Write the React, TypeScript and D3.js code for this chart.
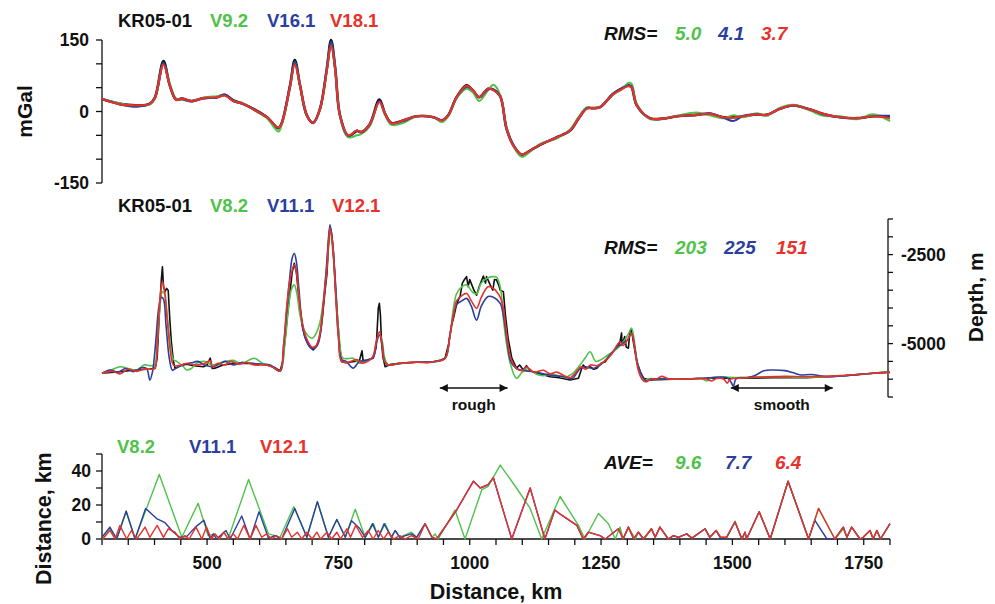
import React from "react";
import * as d3 from "d3";

// ---------- DATA ----------
const seriesNamesTop = ["KR05-01", "V9.2", "V16.1", "V18.1"];
const seriesNamesMid = ["KR05-01", "V8.2", "V11.1", "V12.1"];
const seriesNamesBot = ["V8.2", "V11.1", "V12.1"];
const rmsTop = ["5.0", "4.1", "3.7"];
const rmsMid = ["203", "225", "151"];
const aveBot = ["9.6", "7.7", "6.4"];

const topKm = [
  300, 334, 366, 391, 401, 417, 429, 441, 452, 471,
  493, 518, 534, 550, 569, 594, 614, 636, 642, 658,
  667, 677, 690, 702, 715, 728, 736, 744, 753, 769,
  785, 794, 810, 828, 839, 851, 873, 899, 931, 947,
  959, 975, 994, 1006, 1018, 1035, 1045, 1058, 1070, 1083,
  1099, 1115, 1134, 1166, 1191, 1207, 1223, 1235, 1248, 1273,
  1289, 1302, 1308, 1318, 1343, 1368, 1394, 1432, 1457, 1483,
  1502, 1521, 1546, 1565, 1591, 1616, 1648, 1673, 1705, 1737,
  1768, 1800,
];
const gravKR = [
  26, 16, 13, 16, 30, 106, 55, 25, 27, 22,
  28, 30, 35, 23, 16, 2, -12, -35, -25, 55,
  108, 55, -8, -24, 6, 90, 150, 90, -8, -52,
  -41, -43, -26, 25, -5, -24, -19, -10, -12, -19,
  -8, 30, 55, 44, 30, 48, 46, 32, -36, -71,
  -91, -82, -70, -54, -40, -15, 7, 7, 9, 37,
  48, 55, 51, 13, -14, -15, -10, -7, -5, -12,
  -12, -10, -6, -7, 6, 13, 4, -5, -12, -14,
  -10, -10,
];
const gravV9 = [
  26, 17, 12, 15, 28, 100, 58, 27, 25, 21,
  29, 32, 34, 22, 16, 0, -14, -42, -28, 50,
  104, 55, -10, -22, 4, 88, 145, 88, -10, -54,
  -50, -47, -30, 20, -8, -28, -24, -10, -12, -22,
  -10, 28, 48, 40, 22, 45, 56, 35, -32, -72,
  -95, -84, -68, -56, -38, -12, 9, 6, 10, 36,
  46, 60, 58, 16, -16, -15, -9, -2, -8, -14,
  -8, -12, -4, -9, 8, 14, 2, -9, -10, -16,
  -6, -20,
];
const gravV16 = [
  26, 15, 10, 17, 29, 102, 55, 25, 26, 21,
  28, 29, 35, 22, 15, 1, -12, -34, -24, 54,
  105, 54, -9, -23, 5, 90, 146, 89, -8, -51,
  -40, -44, -27, 22, -5, -24, -20, -10, -12, -18,
  -8, 30, 52, 45, 30, 46, 46, 32, -35, -70,
  -90, -82, -70, -54, -40, -15, 7, 7, 9, 37,
  48, 54, 53, 13, -14, -15, -10, -7, -4, -13,
  -20, -9, -6, -7, 6, 12, 4, -6, -12, -14,
  -10, -9,
];
const gravV18 = [
  26, 15, 13, 16, 29, 98, 55, 24, 27, 22,
  28, 30, 33, 22, 16, 1, -12, -34, -25, 52,
  98, 54, -8, -24, 5, 86, 138, 86, -8, -50,
  -40, -43, -26, 20, -5, -25, -19, -10, -12, -19,
  -8, 30, 54, 45, 30, 48, 45, 32, -36, -72,
  -90, -82, -70, -54, -40, -15, 6, 7, 9, 36,
  47, 53, 51, 13, -14, -15, -10, -7, -5, -12,
  -13, -10, -6, -7, 6, 13, 4, -5, -12, -14,
  -10, -14,
];

const depthKR: [number, number][] = [
  [300,-5830],[334,-5790],[360,-5745],[391,-5715],[401,-5695],[405,-5400],[409,-4200],[413,-3200],[415,-2840],[417,-3400],
  [420,-3540],[423,-3450],[426,-3500],[429,-4300],[432,-4950],[436,-5500],[439,-5690],[450,-5620],[461,-5580],[475,-5620],
  [493,-5650],[500,-5600],[506,-5410],[510,-5700],[515,-5690],[530,-5600],[550,-5555],[582,-5555],[614,-5600],[630,-5680],
  [639,-5770],[644,-5500],[648,-4950],[653,-4200],[658,-3540],[662,-3000],[666,-2745],[670,-3000],[674,-3600],[677,-4000],
  [681,-4500],[686,-4800],[694,-5050],[702,-5180],[709,-5050],[715,-4760],[720,-4200],[724,-3600],[728,-3070],[731,-2300],
  [734,-1720],[737,-1900],[740,-2320],[744,-3200],[748,-4200],[752,-5000],[756,-5510],[765,-5540],[778,-5510],[790,-5480],
  [795,-5200],[797,-5480],[804,-5460],[816,-5410],[822,-5100],[826,-4000],[828,-3870],[830,-4200],[832,-4950],[835,-5400],
  [839,-5650],[850,-5580],[867,-5555],[899,-5525],[931,-5510],[945,-5460],[953,-5410],[960,-5000],[965,-4500],[969,-4290],
  [975,-3900],[982,-3640],[986,-3300],[990,-3200],[994,-3120],[997,-3400],[1000,-3200],[1004,-3350],[1008,-3500],[1013,-3640],
  [1018,-3400],[1022,-3250],[1026,-3100],[1030,-3300],[1032,-3120],[1036,-3250],[1039,-3350],[1044,-3500],[1047,-3200],[1051,-3210],
  [1055,-3350],[1058,-3500],[1064,-3540],[1068,-4200],[1073,-4850],[1080,-5400],[1089,-5690],[1095,-5600],[1102,-5740],[1108,-5620],
  [1115,-5760],[1121,-5790],[1135,-5850],[1153,-5930],[1170,-5960],[1191,-6020],[1207,-5975],[1212,-5750],[1216,-5600],[1222,-5700],
  [1229,-5650],[1236,-5720],[1242,-5690],[1250,-5550],[1258,-5510],[1266,-5350],[1273,-5230],[1280,-5100],[1286,-4950],[1289,-4700],
  [1290,-5050],[1295,-4800],[1298,-5100],[1302,-5130],[1305,-4650],[1308,-4620],[1312,-5000],[1318,-5510],[1325,-5800],[1331,-5975],
  [1343,-6020],[1388,-6000],[1451,-5975],[1515,-5975],[1578,-5957],[1641,-5955],[1705,-5910],[1768,-5835],[1800,-5805],
];
const depthV8: [number, number][] = [
  [300,-5830],[315,-5760],[334,-5650],[350,-5700],[366,-5750],[380,-5600],[391,-5620],[400,-5600],[405,-5000],[410,-4000],
  [415,-3540],[419,-3600],[424,-4200],[430,-5000],[436,-5450],[442,-5500],[455,-5650],[461,-5740],[470,-5700],[480,-5550],
  [495,-5500],[510,-5600],[522,-5550],[535,-5500],[550,-5470],[565,-5560],[590,-5410],[605,-5550],[620,-5620],[639,-5770],
  [648,-5000],[655,-4000],[660,-3500],[666,-3350],[671,-3600],[677,-4200],[686,-4650],[700,-4850],[708,-4700],[715,-4400],
  [722,-3700],[728,-2800],[734,-1800],[740,-2500],[746,-3800],[752,-4900],[758,-5400],[770,-5420],[778,-5410],[790,-5550],
  [800,-5500],[815,-5400],[822,-5000],[828,-4760],[833,-4900],[838,-5400],[845,-5600],[867,-5555],[899,-5525],[931,-5510],
  [953,-5420],[962,-4800],[969,-4000],[975,-3600],[985,-3400],[994,-3350],[1005,-3550],[1013,-3600],[1022,-3300],[1035,-3150],
  [1045,-3120],[1051,-3130],[1058,-3400],[1064,-4300],[1070,-5000],[1078,-5600],[1089,-5975],[1100,-5800],[1112,-5700],[1125,-5850],
  [1140,-5900],[1153,-5850],[1165,-5880],[1180,-5950],[1195,-5850],[1210,-5600],[1220,-5400],[1229,-5230],[1240,-5500],[1250,-5450],
  [1265,-5300],[1280,-5150],[1295,-4900],[1303,-4700],[1308,-4560],[1312,-4800],[1318,-5450],[1325,-5850],[1331,-6050],[1340,-5990],
  [1360,-5990],[1400,-5990],[1420,-6000],[1440,-5970],[1451,-6050],[1460,-5960],[1515,-5950],[1578,-5930],[1641,-5950],[1705,-5910],
  [1768,-5835],[1790,-5790],[1800,-5830],
];
const depthV11: [number, number][] = [
  [300,-5830],[315,-5740],[330,-5800],[345,-5700],[360,-5790],[375,-5680],[385,-5700],[391,-6025],[396,-5800],[402,-5000],
  [408,-4000],[413,-3700],[417,-3750],[422,-4500],[428,-5400],[434,-5750],[440,-5700],[455,-5580],[470,-5540],[482,-5500],
  [495,-5600],[510,-5650],[525,-5560],[535,-5500],[550,-5600],[565,-5530],[580,-5550],[605,-5580],[620,-5600],[639,-5770],
  [646,-5000],[652,-4000],[657,-3200],[662,-2600],[666,-2460],[670,-2700],[675,-3500],[680,-4300],[688,-4900],[700,-5150],
  [710,-5050],[716,-4700],[722,-3800],[728,-2700],[734,-1660],[739,-2200],[745,-3600],[750,-4800],[756,-5450],[765,-5500],
  [778,-5690],[790,-5500],[800,-5480],[816,-5400],[822,-5000],[828,-4760],[833,-5000],[838,-5500],[845,-5600],[867,-5555],
  [899,-5525],[931,-5510],[953,-5420],[962,-4800],[969,-4200],[975,-3900],[985,-3800],[994,-3730],[1003,-3950],[1013,-4340],
  [1022,-3950],[1035,-3680],[1045,-3700],[1058,-3870],[1064,-4200],[1070,-4800],[1078,-5500],[1089,-5700],[1100,-5750],[1121,-5790],
  [1140,-5850],[1160,-5900],[1180,-5930],[1195,-5980],[1210,-5700],[1220,-5650],[1235,-5700],[1250,-5580],[1265,-5350],[1280,-5100],
  [1290,-5000],[1300,-4900],[1308,-4720],[1314,-5100],[1320,-5600],[1328,-5900],[1336,-6050],[1345,-6000],[1400,-6000],[1440,-5980],
  [1490,-5960],[1498,-6100],[1502,-6200],[1507,-5990],[1530,-5950],[1545,-5880],[1560,-5760],[1578,-5740],[1600,-5760],[1616,-5820],
  [1630,-5880],[1650,-5870],[1680,-5930],[1705,-5910],[1768,-5835],[1800,-5805],
];
const depthV12: [number, number][] = [
  [300,-5830],[320,-5780],[334,-5850],[350,-5720],[366,-5780],[380,-5720],[395,-5720],[401,-5690],[405,-5000],[410,-3800],
  [415,-3260],[419,-3500],[424,-4300],[430,-5200],[436,-5600],[445,-5620],[461,-5560],[480,-5600],[495,-5560],[506,-5480],
  [510,-5650],[520,-5560],[535,-5600],[545,-5500],[560,-5580],[575,-5530],[590,-5600],[614,-5600],[630,-5700],[639,-5770],
  [646,-5000],[652,-3900],[658,-3200],[666,-2790],[670,-3000],[675,-3700],[680,-4300],[688,-4800],[700,-5100],[708,-5050],
  [715,-4700],[722,-3800],[728,-2900],[734,-1750],[739,-2200],[745,-3700],[750,-4800],[756,-5500],[770,-5520],[785,-5450],
  [795,-5550],[806,-5500],[816,-5350],[822,-4950],[828,-4670],[833,-5000],[838,-5500],[845,-5600],[867,-5555],[899,-5520],
  [920,-5540],[931,-5510],[953,-5420],[962,-4800],[969,-4200],[975,-3800],[985,-3650],[994,-3590],[1003,-3800],[1013,-4010],
  [1022,-3700],[1035,-3400],[1045,-3450],[1058,-3700],[1064,-4000],[1070,-4700],[1078,-5400],[1089,-5700],[1100,-5760],[1108,-5650],
  [1121,-5800],[1140,-5750],[1153,-5850],[1165,-5800],[1180,-5900],[1191,-5960],[1200,-5850],[1212,-5650],[1220,-5720],[1230,-5600],
  [1242,-5620],[1258,-5480],[1270,-5300],[1280,-5050],[1286,-4950],[1292,-5050],[1300,-4900],[1308,-4710],[1314,-5100],[1320,-5700],
  [1328,-6000],[1336,-6080],[1345,-5990],[1355,-6000],[1365,-5920],[1380,-5990],[1420,-5990],[1450,-5990],[1460,-6050],[1470,-5980],
  [1484,-6000],[1490,-6110],[1496,-6000],[1520,-5970],[1560,-5940],[1600,-5920],[1641,-5930],[1705,-5900],[1768,-5835],[1800,-5800],
];

const distV8: [number, number][] = [
  [300,0],[303,0.4],[315,6],[328,0],[346,16],[363,0],[409,38],[452,1],[483,21],[502,2],
  [515,3],[523,0],[532,4],[540,0],[579,35],[617,3],[629,2],[639,1],[665,19],[690,1],
  [710,22],[731,1],[747,11.5],[763,1],[782,17.5],[801,1],[817,9],[826,1],[839,9],[851,1],
  [858,5],[867,1],[889,4],[899,1],[915,9],[928,1],[934,3],[940,0],[972,17],[991,0],
  [1023,29],[1035,31],[1058,43.5],[1089,30],[1115,18],[1137,0],[1172,25],[1207,8],[1219,0],[1245,15],
  [1264,9],[1277,0],[1286,7],[1292,0],[1302,7],[1315,0],[1321,4],[1331,0],[1346,6],[1353,1],
  [1362,7],[1378,0],[1388,2],[1397,1],[1413,3],[1423,0.5],[1448,6],[1457,1],[1469,5],[1478,1],
  [1489,1],[1505,10.5],[1518,0],[1524,4],[1527,0],[1551,16],[1572,0],[1606,34],[1645,0],[1664,18],
  [1695,0],[1711,6],[1718,1],[1727,7],[1743,0],[1749,1],[1762,5],[1768,0],[1775,5],[1782,0],
  [1800,9],
];
const distV11: [number, number][] = [
  [300,1],[315,7],[328,0],[346,16.5],[363,0],[383,18],[404,12],[420,9.6],[436,4],[448,1],
  [461,1.4],[480,7.6],[494,11],[506,0],[512,3],[518,0],[536,5],[544,0],[566,13.5],[582,0],
  [599,16],[617,0.4],[629,2],[642,0],[667,18],[690,1],[710,22],[731,1],[747,11.5],[763,1],
  [775,10.8],[791,6],[801,1],[815,9],[826,1],[837,9],[851,1],[858,5],[867,1],[889,3],
  [899,1],[915,9],[928,1],[937,0],[975,17],[1007,34],[1020,30],[1035,32],[1045,36],[1080,0],
  [1115,30],[1143,0],[1162,17],[1175,14],[1204,8],[1216,0],[1226,4],[1248,2],[1258,0],[1283,6],
  [1292,0],[1302,7],[1312,0],[1321,4],[1331,0],[1346,6],[1353,1],[1362,7],[1378,0],[1388,2],
  [1397,1],[1413,3],[1423,0.5],[1448,6],[1457,1],[1469,5],[1478,0],[1489,1],[1505,10],[1518,0],
  [1524,4],[1527,0],[1551,16],[1572,0],[1606,34],[1645,0],[1657,11],[1680,0],[1695,0],[1711,7],
  [1718,1],[1727,7],[1743,0],[1749,1],[1762,5],[1768,0],[1775,5],[1782,0],[1800,9],
];
const distV12: [number, number][] = [
  [300,0],[301,0],[315,5],[325,0],[334,8],[347,0],[356,5],[366,0],[382,7],[391,1],
  [405,8],[417,1],[426,6],[439,4],[448,0],[458,2],[466,0],[479,7],[490,0],[499,7],
  [508,0],[515,3],[523,0],[532,4],[540,0],[550,3],[558,0],[570,8],[582,0],[593,8],
  [604,1],[613,3],[623,0],[632,2],[642,0],[653,6],[661,1],[672,4],[680,0],[690,4],
  [700,0],[709,4],[716,0],[728,4],[737,0],[747,4],[754,0],[766,6],[773,1],[783,8],
  [796,1],[807,5],[816,0],[826,5],[836,0],[845,4],[855,0],[867,2],[877,0],[889,2],
  [902,0],[915,9],[928,1],[937,0],[975,17],[1007,34],[1020,30],[1035,32],[1045,36],[1080,0],
  [1115,30],[1143,0],[1162,17],[1175,14],[1204,8],[1216,0],[1226,4],[1236,3],[1248,2],[1258,0],
  [1283,6],[1292,0],[1302,7],[1312,0],[1321,4],[1331,0],[1346,6],[1353,1],[1362,7],[1378,0],
  [1388,2],[1397,1],[1413,3],[1423,0.5],[1448,6],[1457,1],[1469,5],[1478,1],[1489,1],[1505,10],
  [1518,0],[1524,4],[1527,0],[1551,16],[1572,0],[1606,34],[1645,0],[1664,18],[1695,0],[1711,7],
  [1718,1],[1727,7],[1743,0],[1749,1],[1762,5],[1768,0],[1775,5],[1782,0],[1800,9],
];

const gravTicks = [-150, -100, -50, 0, 50, 100, 150];
const gravLabels = [-150, 0, 150];
const depthTicks = [-6500, -6000, -5500, -5000, -4500, -4000, -3500, -3000, -2500, -2000, -1500];
const depthLabels = [-5000, -2500];
const kmLabels = [500, 750, 1000, 1250, 1500, 1750];
const distTicks = [0, 10, 20, 30, 40, 50];
const distLabels = [0, 20, 40];
const annotations = [
  { label: "rough", from: 943, to: 1072 },
  { label: "smooth", from: 1497, to: 1691 },
];

// ---------- STYLE ----------
const COLORS = ["#111111", "#4fc24a", "#2c3f9f", "#e8312a"];
const FONT = "'Liberation Sans', Arial, Helvetica, sans-serif";

export default function App() {
  const W = 995, H = 604;
  const x = d3.scaleLinear().domain([300, 1800]).range([102, 890]);
  const yTop = d3.scaleLinear().domain([-150, 150]).range([183, 40]);
  const yMid = d3.scaleLinear().domain([-6500, -1500]).range([397, 219]);
  const yBot = d3.scaleLinear().domain([0, 50]).range([539, 454]);

  const lineTop = d3.line<number>()
    .x((_, i) => x(topKm[i]))
    .y((d) => yTop(d))
    .curve(d3.curveCatmullRom.alpha(0.5));
  const lineMid = d3.line<[number, number]>()
    .x((d) => x(d[0]))
    .y((d) => yMid(d[1]))
    .curve(d3.curveCatmullRom.alpha(0.5));
  const lineMidRaw = d3.line<[number, number]>()
    .x((d) => x(d[0]))
    .y((d) => yMid(d[1]));
  const lineBot = d3.line<[number, number]>()
    .x((d) => x(d[0]))
    .y((d) => yBot(d[1]));

  const gravSeries = [gravKR, gravV9, gravV16, gravV18];
  const depthSeries = [depthV8, depthV11, depthV12];
  const distSeries = [distV8, distV11, distV12];

  const legendTopX = [118, 210, 267, 330];
  const legendMidX = [118, 210, 267, 332];
  const legendBotX = [117, 189, 260];

  const bold = { fontFamily: FONT, fontWeight: 700 as const };

  return (
    <svg width={W} height={H} style={{ position: "absolute", left: 0, top: 0, background: "#fff" }}>
      <defs>
        <marker id="ah" viewBox="0 0 10 10" refX="10" refY="5" markerWidth="14" markerHeight="8" orient="auto-start-reverse" markerUnits="userSpaceOnUse">
          <path d="M0,0 L10,5 L0,10 z" fill="#111" />
        </marker>
      </defs>

      {/* ---------- TOP PANEL: gravity ---------- */}
      <g>
        <line x1={102} x2={102} y1={yTop(-150)} y2={yTop(150)} stroke="#111" strokeWidth={1.3} />
        {gravTicks.map((t) => (
          <line key={t} x1={96} x2={102} y1={yTop(t)} y2={yTop(t)} stroke="#111" strokeWidth={1.3} />
        ))}
        {gravLabels.map((t) => (
          <text key={t} x={89} y={yTop(t)} dy="0.36em" textAnchor="end" fontSize={17.5} {...bold} fill="#111">{t}</text>
        ))}
        <text transform={`translate(32,${yTop(0)}) rotate(-90)`} textAnchor="middle" fontSize={21} {...bold} fill="#111">mGal</text>
        {seriesNamesTop.map((n, i) => (
          <text key={n} x={legendTopX[i]} y={26.5} fontSize={18.5} {...bold} fill={COLORS[i]}>{n}</text>
        ))}
        <text x={604} y={40} fontSize={19} {...bold} fontStyle="italic" fill="#111">RMS=</text>
        {rmsTop.map((v, i) => (
          <text key={i} x={[675, 718, 761][i]} y={40} fontSize={19} {...bold} fontStyle="italic" fill={COLORS[i + 1]}>{v}</text>
        ))}
        {gravSeries.map((s, i) => (
          <path key={i} d={lineTop(s) || ""} fill="none" stroke={COLORS[i]} strokeWidth={i === 0 ? 2.6 : 2.1} strokeLinejoin="round" />
        ))}
      </g>

      {/* ---------- MIDDLE PANEL: depth ---------- */}
      <g>
        <line x1={888} x2={888} y1={yMid(-6500)} y2={yMid(-1500)} stroke="#111" strokeWidth={1.3} />
        {depthTicks.map((t) => (
          <line key={t} x1={888} x2={893} y1={yMid(t)} y2={yMid(t)} stroke="#111" strokeWidth={1.3} />
        ))}
        {depthLabels.map((t) => (
          <text key={t} x={901} y={yMid(t)} dy="0.36em" textAnchor="start" fontSize={17.5} {...bold} fill="#111">{t}</text>
        ))}
        <text transform={`translate(983,${yMid(-3700)}) rotate(-90)`} textAnchor="middle" fontSize={21} {...bold} fill="#111">Depth, m</text>
        {seriesNamesMid.map((n, i) => (
          <text key={n} x={legendMidX[i]} y={211.5} fontSize={18.5} {...bold} fill={COLORS[i]}>{n}</text>
        ))}
        <text x={604} y={254} fontSize={19} {...bold} fontStyle="italic" fill="#111">RMS=</text>
        {rmsMid.map((v, i) => (
          <text key={i} x={[675, 724, 776][i]} y={254} fontSize={19} {...bold} fontStyle="italic" fill={COLORS[i + 1]}>{v}</text>
        ))}
        <path d={lineMidRaw(depthKR) || ""} fill="none" stroke={COLORS[0]} strokeWidth={1.6} strokeLinejoin="round" />
        {depthSeries.map((s, i) => (
          <path key={i} d={lineMid(s) || ""} fill="none" stroke={COLORS[i + 1]} strokeWidth={1.6} strokeLinejoin="round" />
        ))}
        {annotations.map((a) => (
          <g key={a.label}>
            <line x1={x(a.from)} x2={x(a.to)} y1={388} y2={388} stroke="#111" strokeWidth={1.5}
              markerStart="url(#ah)" markerEnd="url(#ah)" />
            <text x={(x(a.from) + x(a.to)) / 2} y={410} textAnchor="middle" fontSize={15.5} {...bold} fill="#111">{a.label}</text>
          </g>
        ))}
      </g>

      {/* ---------- BOTTOM PANEL: distance ---------- */}
      <g>
        <line x1={102} x2={102} y1={yBot(0)} y2={yBot(50)} stroke="#111" strokeWidth={1.3} />
        {distTicks.map((t) => (
          <line key={t} x1={96} x2={102} y1={yBot(t)} y2={yBot(t)} stroke="#111" strokeWidth={1.3} />
        ))}
        {distLabels.map((t) => (
          <text key={t} x={91} y={yBot(t)} dy="0.36em" textAnchor="end" fontSize={17.5} {...bold} fill="#111">{t}</text>
        ))}
        <line x1={x(300)} x2={x(1800)} y1={yBot(0)} y2={yBot(0)} stroke="#111" strokeWidth={1.3} />
        {d3.range(300, 1801, 50).map((t) => (
          <line key={t} x1={x(t)} x2={x(t)} y1={yBot(0)} y2={yBot(0) + 6} stroke="#111" strokeWidth={1.3} />
        ))}
        {kmLabels.map((t) => (
          <text key={t} x={x(t)} y={569} textAnchor="middle" fontSize={17.5} {...bold} fill="#111">{t}</text>
        ))}
        <text x={x(1050)} y={599} textAnchor="middle" fontSize={21.5} {...bold} fill="#111">Distance, km</text>
        <text transform={`translate(51,${yBot(12)}) rotate(-90)`} textAnchor="middle" fontSize={21.5} {...bold} fill="#111">Distance, km</text>
        {seriesNamesBot.map((n, i) => (
          <text key={n} x={legendBotX[i]} y={453} fontSize={18.5} {...bold} fill={COLORS[i + 1]}>{n}</text>
        ))}
        <text x={604} y={469} fontSize={19} {...bold} fontStyle="italic" fill="#111">AVE=</text>
        {aveBot.map((v, i) => (
          <text key={i} x={[675, 725, 775][i]} y={469} fontSize={19} {...bold} fontStyle="italic" fill={COLORS[i + 1]}>{v}</text>
        ))}
        {distSeries.map((s, i) => (
          <path key={i} d={lineBot(s) || ""} fill="none" stroke={COLORS[i + 1]} strokeWidth={1.4} strokeLinejoin="round" />
        ))}
      </g>
    </svg>
  );
}
